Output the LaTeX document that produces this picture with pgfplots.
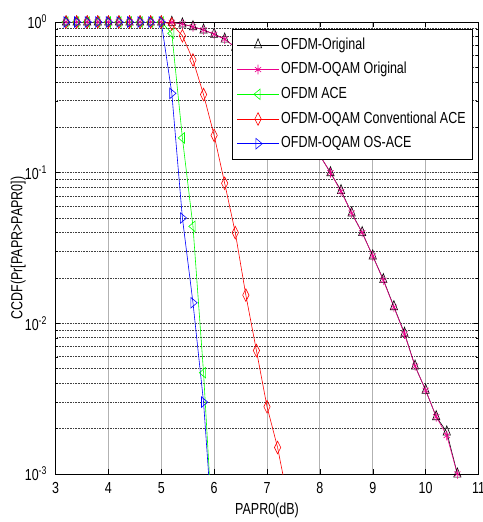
\documentclass[border=0pt]{standalone}
\usepackage{fontspec}
\setmainfont{Liberation Sans}[FakeStretch=0.78]
\usepackage{pgfplots}
\pgfplotsset{compat=1.18}
\usetikzlibrary{calc}

\begin{document}
\fontsize{16}{18}\selectfont
\begin{tikzpicture}
\begin{axis}[
    scale only axis,
    width=423pt,
    height=452pt,
    ymode=log,
    xmin=3, xmax=11,
    ymin=1e-3, ymax=1,
    xtick={3,4,5,6,7,8,9,10,11},
    xticklabels={3,4,5,6,7,8,9,10,11},
    ytick={1e-3,1e-2,1e-1,1},
    yticklabels={10\textsuperscript{-3},10\textsuperscript{-2},10\textsuperscript{-1},10\textsuperscript{0}},
    minor x tick num=0,
    tick align=inside,
    tick pos=both,
    xticklabel pos=lower,
    yticklabel pos=left,
    major tick length=5pt,
    minor tick length=3pt,
    tick style={black, line width=0.5pt},
    xticklabel style={yshift=-3pt},
    yticklabel style={xshift=-3pt},
    xmajorgrids=true,
    ymajorgrids=true,
    yminorgrids=true,
    x grid style={gray!60, line width=0.8pt},
    y grid style={black!75, dash pattern=on 1pt off 0.6pt, line width=0.9pt},
    axis line style={black, line width=0.9pt},
    xlabel={PAPR0(dB)},
    ylabel={CCDF(Pr[PAPR>PAPR0])},
    every axis x label/.style={at={(axis description cs:0.5,-0.08)}, anchor=center},
    every axis y label/.style={at={(axis description cs:-0.088,0.5)}, rotate=90, anchor=center},
    every axis plot/.append style={line width=0.6pt},
    legend cell align=left,
    legend style={at={(axis description cs:0.986,0.984)}, anchor=north east,
        draw=black, line width=0.8pt, fill=white,
        inner xsep=4.5pt, inner ysep=6pt,
        nodes={inner sep=2pt, text height=11.5pt, text depth=3pt},
        row sep=6.2pt, column sep=0pt},
    legend image code/.code={\draw[mark repeat=2,mark phase=2] plot coordinates {(0pt,0pt) (20.85pt,0pt) (41.7pt,0pt)};},
]
% OFDM original
\addplot[black, mark=triangle, mark size=4.2pt, mark options={solid, yscale=1.45}] coordinates {
(3.2,1) (3.4,1) (3.6,1) (3.8,1) (4.0,1) (4.2,1) (4.4,1) (4.6,1) (4.8,1) (5.0,1)
(5.2,0.995) (5.4,0.97) (5.6,0.93) (5.8,0.885) (6.0,0.83) (6.2,0.77) (6.4,0.68)
(6.6,0.60) (6.8,0.52) (7.0,0.44) (7.2,0.36) (7.4,0.29) (7.6,0.225) (7.8,0.17)
(8.0,0.13) (8.2,0.10) (8.4,0.076) (8.6,0.054) (8.8,0.040) (9.0,0.028) (9.2,0.0195)
(9.4,0.0129) (9.6,0.0086) (9.8,0.0052) (10.0,0.0036) (10.2,0.0024) (10.4,0.0019) (10.6,0.001)
};
\addlegendentry{OFDM-Original}
% OFDM-OQAM original
\addplot[magenta, mark=asterisk, mark size=3.6pt, mark options={solid, yscale=1.35}] coordinates {
(3.2,1) (3.4,1) (3.6,1) (3.8,1) (4.0,1) (4.2,1) (4.4,1) (4.6,1) (4.8,1) (5.0,1)
(5.2,0.995) (5.4,0.97) (5.6,0.93) (5.8,0.885) (6.0,0.83) (6.2,0.77) (6.4,0.68)
(6.6,0.60) (6.8,0.52) (7.0,0.44) (7.2,0.36) (7.4,0.29) (7.6,0.225) (7.8,0.17)
(8.0,0.13) (8.2,0.10) (8.4,0.075) (8.6,0.054) (8.8,0.040) (9.0,0.028) (9.2,0.0193)
(9.4,0.0128) (9.6,0.0085) (9.8,0.0052) (10.0,0.0036) (10.2,0.0024) (10.4,0.0018) (10.6,0.001)
};
\addlegendentry{OFDM-OQAM Original}
% OFDM ACE
\addplot[green, mark=triangle, mark size=4.2pt, mark options={solid, yscale=1.45, rotate=90}] coordinates {
(3.2,1) (3.4,1) (3.6,1) (3.8,1) (4.0,1) (4.2,1) (4.4,1) (4.6,1) (4.8,1) (5.0,1)
(5.2,0.84) (5.4,0.17) (5.6,0.044) (5.8,0.0047)
};
\addlegendentry{OFDM ACE}
\addplot[green, no marks, forget plot] coordinates {(5.8,0.0047) (6.0,0.00028)};
% OFDM-OQAM conventional ACE
\addplot[red, mark=diamond, mark size=4.2pt, mark options={solid, yscale=1.5}] coordinates {
(3.2,1) (3.4,1) (3.6,1) (3.8,1) (4.0,1) (4.2,1) (4.4,1) (4.6,1) (4.8,1) (5.0,1)
(5.2,0.97) (5.4,0.81) (5.6,0.56) (5.8,0.33) (6.0,0.177) (6.2,0.085) (6.4,0.040)
(6.6,0.0154) (6.8,0.0066) (7.0,0.0028) (7.2,0.0015)
};
\addlegendentry{OFDM-OQAM Conventional ACE}
\addplot[red, no marks, forget plot] coordinates {(7.2,0.0015) (7.4,0.00066)};
% OFDM-OQAM OS-ACE
\addplot[blue, mark=triangle, mark size=4.2pt, mark options={solid, yscale=1.45, rotate=-90}] coordinates {
(3.2,1) (3.4,1) (3.6,1) (3.8,1) (4.0,1) (4.2,1) (4.4,1) (4.6,1) (4.8,1) (5.0,1)
(5.2,0.336) (5.4,0.050) (5.6,0.0137) (5.8,0.0030)
};
\addlegendentry{OFDM-OQAM OS-ACE}
\addplot[blue, no marks, forget plot] coordinates {(5.8,0.0030) (6.0,0.0003)};
\end{axis}
\pgfresetboundingbox
\useasboundingbox ($(current axis.south west)+(-55.5pt,-48pt)$) rectangle ($(current axis.north east)+(4.5pt,22pt)$);
\end{tikzpicture}
\end{document}
